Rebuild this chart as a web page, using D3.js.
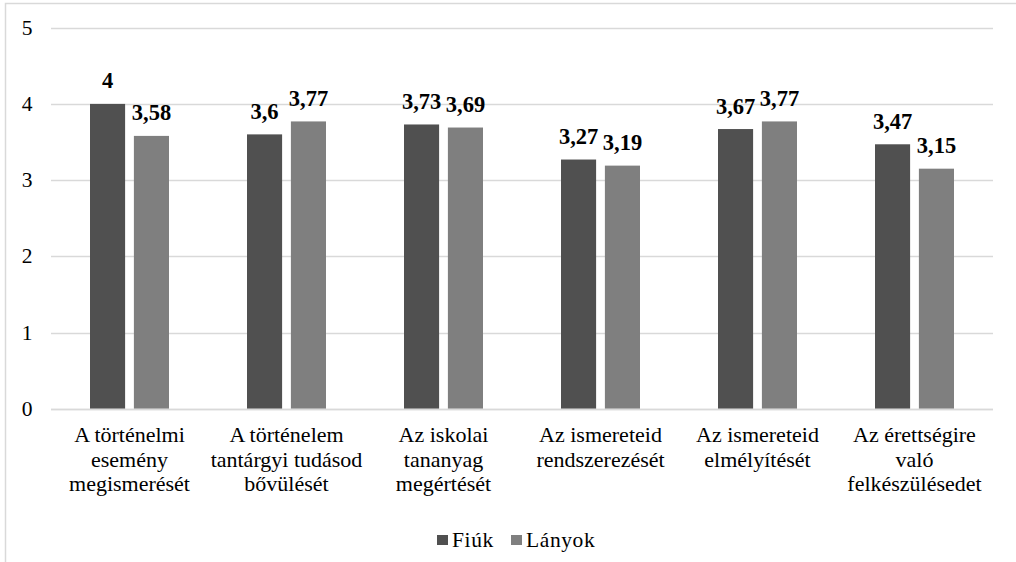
<!DOCTYPE html>
<html><head><meta charset="utf-8">
<script src="https://cdn.jsdelivr.net/npm/d3@7"></script>
<style>body{margin:0;background:#fff}svg{display:block}</style>
</head><body><svg id="c" width="1016" height="562" font-family="'Liberation Serif', 'Times New Roman', 'DejaVu Serif', serif"></svg>
<script>
const categories = [
  ["A történelmi","esemény","megismerését"],
  ["A történelem","tantárgyi tudásod","bővülését"],
  ["Az iskolai","tananyag","megértését"],
  ["Az ismereteid","rendszerezését"],
  ["Az ismereteid","elmélyítését"],
  ["Az érettségire","való","felkészülésedet"]
];
const seriesNames = ["Fiúk","Lányok"];
const fiuk = [4, 3.6, 3.73, 3.27, 3.67, 3.47];
const lanyok = [3.58, 3.77, 3.69, 3.19, 3.77, 3.15];
const yTicks = [0,1,2,3,4,5];
const colors = ["#505050","#7f7f7f"];

(function(){
const FONT = "'Liberation Serif', 'Times New Roman', 'DejaVu Serif', serif";
const svg = d3.select("#c");
svg.append("rect").attr("x",5.5).attr("y",3.5).attr("width",1100).attr("height",700)
  .attr("fill","none").attr("stroke","#d9d9d9").attr("stroke-width",1.5);

const pLeft=51, pRight=993, pTop=27.7, pBottom=408.7;
const x0 = d3.scaleBand().domain(d3.range(categories.length)).range([pLeft,pRight]);
const x1 = d3.scaleBand().domain([0,1]).range([0,79]).paddingInner(0.2).paddingOuter(0);
const y = d3.scaleLinear().domain([0,5]).range([pBottom,pTop]);

svg.append("g").selectAll("line").data(yTicks).join("line")
  .attr("x1",pLeft).attr("x2",pRight).attr("y1",d=>Math.round(y(d))+0.5).attr("y2",d=>Math.round(y(d))+0.5)
  .attr("stroke","#d9d9d9").attr("stroke-width",1.5);

svg.append("g").selectAll("text").data(yTicks).join("text")
  .attr("x",32.5).attr("y",d=>y(d)+7).attr("text-anchor","end").attr("font-size",21.5)
  .attr("font-family",FONT).attr("fill","#000").text(d=>d);

const data = categories.map((c,i)=>[fiuk[i],lanyok[i]]);
const fmt = v => String(v).replace(".",",");
const groups = svg.append("g").selectAll("g").data(data).join("g")
  .attr("transform",(d,i)=>`translate(${x0(i)+x0.bandwidth()/2-39.5},0)`);
groups.selectAll("rect").data(d=>d).join("rect")
  .attr("x",(d,j)=>x1(j)).attr("width",x1.bandwidth())
  .attr("y",d=>y(d)).attr("height",d=>y(0)-y(d)).attr("fill",(d,j)=>colors[j]);
groups.selectAll("text").data(d=>d).join("text")
  .attr("x",(d,j)=>x1(j)+x1.bandwidth()/2).attr("y",d=>y(d)-15.5)
  .attr("text-anchor","middle").attr("font-size",22.5).attr("font-weight","bold")
  .attr("font-family",FONT).attr("fill","#000").text(fmt);

svg.append("line").attr("x1",pLeft).attr("x2",pRight).attr("y1",Math.round(y(0))+0.5).attr("y2",Math.round(y(0))+0.5)
  .attr("stroke","#d9d9d9").attr("stroke-width",1.5);

const cl = svg.append("g").selectAll("text").data(categories).join("text")
  .attr("x",(d,i)=>x0(i)+x0.bandwidth()/2).attr("y",442).attr("text-anchor","middle")
  .attr("font-size",22).attr("font-family",FONT).attr("fill","#000");
cl.each(function(lines){
  const tx = d3.select(this).attr("x");
  d3.select(this).selectAll("tspan").data(lines).join("tspan")
    .attr("x",tx).attr("dy",(d,k)=>k?24.7:0).text(d=>d);
});

const lg = svg.append("g");
const legX = [437, 511];
seriesNames.forEach((n,j)=>{
  lg.append("rect").attr("x",legX[j]).attr("y",535).attr("width",11).attr("height",10).attr("fill",colors[j]);
  lg.append("text").attr("x",legX[j]+15).attr("y",547).attr("font-size",21.5).attr("letter-spacing",0.6)
    .attr("font-family",FONT).attr("fill","#000").text(n);
});
})();
</script></body></html>
